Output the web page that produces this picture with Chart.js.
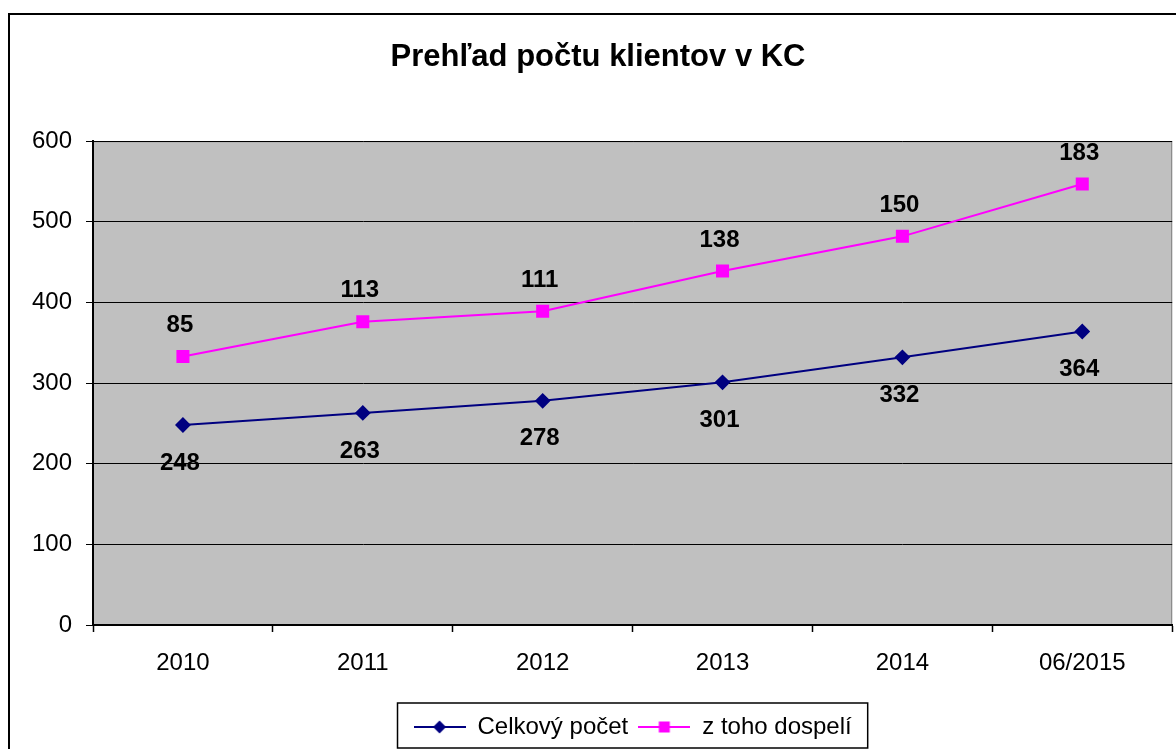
<!DOCTYPE html>
<html>
<head>
<meta charset="utf-8">
<script src="https://cdn.jsdelivr.net/npm/chart.js@4/dist/chart.umd.min.js"></script>
<style>
  html, body { margin: 0; padding: 0; background: #fff; overflow: hidden; }
  #wrap { position: relative; width: 1176px; height: 749px; overflow: hidden; }
</style>
</head>
<body>
<div id="wrap"><canvas id="chart" width="1182" height="749"></canvas></div>
<script>
const years = ['2010', '2011', '2012', '2013', '2014', '06/2015'];
const celkovyPocet = [248, 263, 278, 301, 332, 364];
const dospeli = [85, 113, 111, 138, 150, 183];
const yTicks = [0, 100, 200, 300, 400, 500, 600];

const navy = '#000080';
const magenta = '#FF00FF';
const FONT = 'Arial, "Liberation Sans", sans-serif';

// legend icon: short line with the marker in the middle
function legendIcon(color, style) {
    const c = document.createElement('canvas');
    c.width = 52; c.height = 16;
    const ctx = c.getContext('2d');
    ctx.strokeStyle = color;
    ctx.lineWidth = 2;
    ctx.beginPath(); ctx.moveTo(0, 8); ctx.lineTo(52, 8); ctx.stroke();
    ctx.fillStyle = color;
    if (style === 'diamond') {
        ctx.beginPath();
        ctx.moveTo(26, 1.5); ctx.lineTo(32.5, 8); ctx.lineTo(26, 14.5); ctx.lineTo(19.5, 8);
        ctx.closePath(); ctx.fill();
    } else {
        ctx.fillRect(20.5, 2.5, 11, 11);
    }
    return c;
}
const icons = [legendIcon(navy, 'diamond'), legendIcon(magenta, 'square')];

const framePlugin = {
    id: 'frame',
    beforeDraw(chart) {
        const {ctx, chartArea: a} = chart;
        ctx.save();
        ctx.fillStyle = '#C0C0C0';
        ctx.fillRect(a.left, a.top, a.right - a.left, a.bottom - a.top);
        ctx.strokeStyle = '#808080';
        ctx.lineWidth = 1;
        ctx.beginPath();
        ctx.moveTo(a.left, a.top + 0.5); ctx.lineTo(a.right - 0.5, a.top + 0.5); ctx.lineTo(a.right - 0.5, a.bottom);
        ctx.stroke();
        ctx.strokeStyle = '#000';
        ctx.lineWidth = 2;
        ctx.strokeRect(9, 14, 1200, 800);
        ctx.restore();
    },
    afterDraw(chart) {
        const boxes = chart.legend.legendHitBoxes;
        if (!boxes || !boxes.length) return;
        const ctx = chart.ctx;
        const l = Math.min(...boxes.map(b => b.left)) - 16;
        const r = Math.max(...boxes.map(b => b.left + b.width)) + 16;
        ctx.save();
        ctx.strokeStyle = '#000';
        ctx.lineWidth = 1.5;
        ctx.strokeRect(l, 703, r - l, 45);
        ctx.restore();
    }
};

const labelPlugin = {
    id: 'valueLabels',
    afterDatasetsDraw(chart) {
        const ctx = chart.ctx;
        ctx.save();
        ctx.font = 'bold 24px ' + FONT;
        ctx.fillStyle = '#000';
        ctx.textAlign = 'center';
        ctx.textBaseline = 'middle';
        chart.data.datasets.forEach((ds, i) => {
            const meta = chart.getDatasetMeta(i);
            meta.data.forEach((pt, j) => {
                const dy = i === 0 ? 38 : -31;
                ctx.fillText(String(ds.data[j]), pt.x - 3, pt.y + dy);
            });
        });
        ctx.restore();
    }
};

new Chart(document.getElementById('chart'), {
    type: 'line',
    data: {
        labels: years,
        datasets: [
            {
                label: 'Celkový počet',
                data: celkovyPocet,
                borderColor: navy,
                backgroundColor: navy,
                borderWidth: 2,
                pointStyle: 'rectRot',
                pointRadius: 6.5,
                pointHoverRadius: 6.5,
                fill: false,
                tension: 0
            },
            {
                label: 'z toho dospelí',
                data: dospeli,
                borderColor: magenta,
                backgroundColor: magenta,
                borderWidth: 2,
                pointStyle: 'rect',
                pointRadius: 7.8,
                pointHoverRadius: 7.8,
                fill: false,
                tension: 0
            }
        ]
    },
    options: {
        responsive: false,
        animation: false,
        events: [],
        layout: { padding: { left: 14, right: 0, top: 0, bottom: 0 } },
        plugins: {
            title: {
                display: true,
                text: 'Prehľad počtu klientov v KC',
                color: '#000',
                font: { family: FONT, size: 31, weight: 'bold', lineHeight: 1.2 },
                padding: { top: 39, bottom: 65 }
            },
            legend: {
                position: 'bottom',
                fullSize: false,
                labels: {
                    color: '#000',
                    font: { family: FONT, size: 24 },
                    usePointStyle: true,
                    pointStyleWidth: 52,
                    padding: 10,
                    generateLabels(chart) {
                        return chart.data.datasets.map((ds, i) => ({
                            text: ds.label,
                            fillStyle: ds.backgroundColor,
                            strokeStyle: ds.borderColor,
                            lineWidth: 0,
                            pointStyle: icons[i],
                            datasetIndex: i,
                            hidden: false
                        }));
                    }
                }
            },
            tooltip: { enabled: false }
        },
        scales: {
            x: {
                offset: true,
                grid: {
                    display: true,
                    offset: true,
                    drawOnChartArea: false,
                    color: '#000',
                    tickLength: 7,
                    tickWidth: 1.5
                },
                border: { color: '#000', width: 2 },
                ticks: {
                    color: '#000',
                    font: { family: FONT, size: 24 },
                    padding: 17,
                    maxRotation: 0
                },
                afterFit(scale) {
                    scale.height = 80;
                    scale.paddingLeft = 0;
                    scale.paddingRight = 0;
                }
            },
            y: {
                stacked: true,
                min: 0,
                max: 600,
                afterBuildTicks(scale) { scale.ticks = yTicks.map(v => ({ value: v })); },
                grid: {
                    color: '#000',
                    lineWidth: 1,
                    tickLength: 7
                },
                border: { color: '#000', width: 2 },
                ticks: {
                    color: '#000',
                    font: { family: FONT, size: 24 },
                    padding: 14
                },
                afterFit(scale) { scale.width = 79; }
            }
        }
    },
    plugins: [framePlugin, labelPlugin]
});
</script>
</body>
</html>
